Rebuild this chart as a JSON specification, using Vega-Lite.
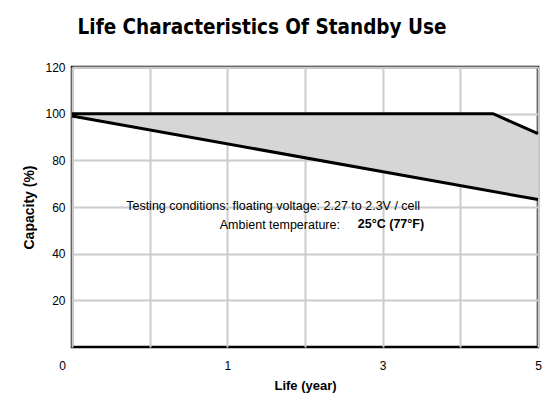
{
  "$schema": "https://vega.github.io/schema/vega-lite/v6.json",
  "width": 466,
  "height": 280,
  "autosize": {"type": "none"},
  "padding": {"left": 72, "top": 67, "right": 22, "bottom": 58},
  "background": "white",
  "title": {
    "text": "Life Characteristics Of Standby Use",
    "font": "Liberation Sans Narrow, DejaVu Sans Condensed, Liberation Sans",
    "fontSize": 20.5,
    "fontWeight": "bold",
    "color": "black",
    "anchor": "middle",
    "dx": -43,
    "offset": 23
  },
  "config": {
    "view": {"stroke": "black", "strokeWidth": 2.5},
    "font": "Liberation Sans",
    "axis": {
      "labelFont": "Liberation Sans",
      "labelFontSize": 12,
      "labelColor": "black",
      "titleFont": "Liberation Sans",
      "titleFontWeight": "bold",
      "titleColor": "black",
      "gridColor": "#cccccc",
      "gridWidth": 2,
      "gridOpacity": 1,
      "ticks": false,
      "domain": false
    }
  },
  "datasets": {
    "band": [
      {"t": 0, "hi": 100, "lo": 99},
      {"t": 5.42, "hi": 100, "lo": 66.7},
      {"t": 6, "hi": 91.4, "lo": 63.2}
    ],
    "upper": [
      {"t": 0, "v": 100},
      {"t": 5.42, "v": 100},
      {"t": 6, "v": 91.4}
    ],
    "lower": [
      {"t": 0, "v": 99},
      {"t": 6, "v": 63.2}
    ],
    "note1": [
      {"t": 2.59, "v": 60.3, "label": "Testing conditions: floating voltage: 2.27 to 2.3V / cell"}
    ],
    "note2": [
      {"t": 3.45, "v": 52.2, "label": "Ambient temperature:"}
    ],
    "note3": [
      {"t": 3.68, "v": 52.6, "label": "25°C (77°F)"}
    ]
  },
  "layer": [
    {
      "data": {"name": "band"},
      "mark": {"type": "area", "color": "#d6d6d6", "opacity": 1},
      "encoding": {
        "x": {
          "field": "t", "type": "quantitative",
          "scale": {"domain": [0, 6], "nice": false},
          "axis": {
            "values": [0, 1, 2, 3, 4, 5, 6],
            "labelExpr": "datum.value == 0 ? '0' : datum.value == 2 ? '1' : datum.value == 4 ? '3' : datum.value == 6 ? '5' : ''",
            "labelOffset": {"condition": {"test": "datum.value == 0", "value": -10}, "value": 0},
            "labelPadding": 13,
            "title": "Life (year)",
            "titleFontSize": 13,
            "titlePadding": 8,
            "labelFlush": false
          }
        },
        "y": {
          "field": "hi", "type": "quantitative",
          "scale": {"domain": [0, 120], "nice": false},
          "axis": {
            "values": [20, 40, 60, 80, 100, 120],
            "labelPadding": 7,
            "title": "Capacity (%)",
            "titleFontSize": 14,
            "titlePadding": 8
          }
        },
        "y2": {"field": "lo"}
      }
    },
    {
      "data": {"name": "upper"},
      "mark": {"type": "line", "color": "black", "strokeWidth": 3},
      "encoding": {
        "x": {"field": "t", "type": "quantitative"},
        "y": {"field": "v", "type": "quantitative"}
      }
    },
    {
      "data": {"name": "lower"},
      "mark": {"type": "line", "color": "black", "strokeWidth": 3},
      "encoding": {
        "x": {"field": "t", "type": "quantitative"},
        "y": {"field": "v", "type": "quantitative"}
      }
    },
    {
      "data": {"name": "note1"},
      "mark": {"type": "text", "fontSize": 12.5, "color": "black", "baseline": "middle", "align": "center"},
      "encoding": {
        "x": {"field": "t", "type": "quantitative"},
        "y": {"field": "v", "type": "quantitative"},
        "text": {"field": "label"}
      }
    },
    {
      "data": {"name": "note2"},
      "mark": {"type": "text", "fontSize": 12.5, "color": "black", "baseline": "middle", "align": "right"},
      "encoding": {
        "x": {"field": "t", "type": "quantitative"},
        "y": {"field": "v", "type": "quantitative"},
        "text": {"field": "label"}
      }
    },
    {
      "data": {"name": "note3"},
      "mark": {"type": "text", "fontSize": 12.5, "fontWeight": "bold", "color": "black", "baseline": "middle", "align": "left"},
      "encoding": {
        "x": {"field": "t", "type": "quantitative"},
        "y": {"field": "v", "type": "quantitative"},
        "text": {"field": "label"}
      }
    }
  ]
}
